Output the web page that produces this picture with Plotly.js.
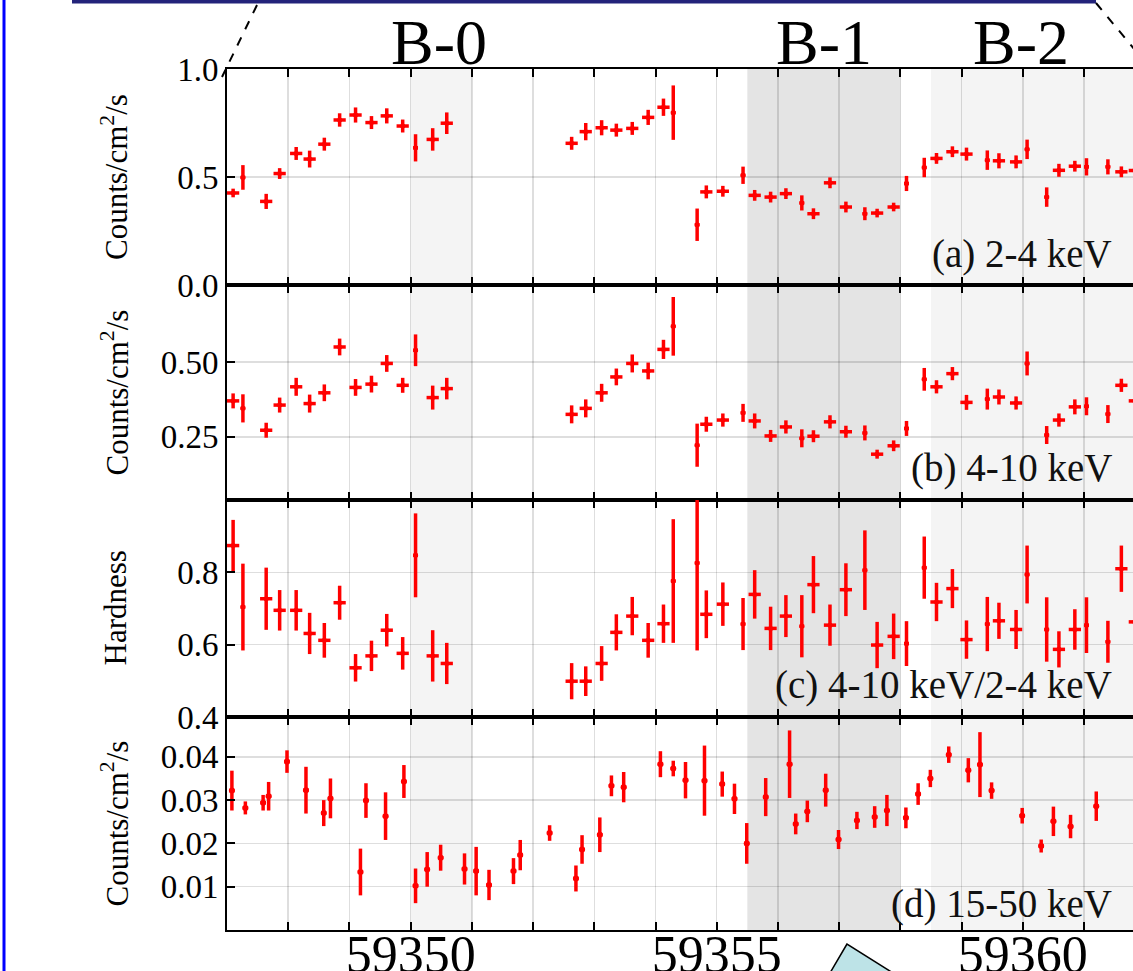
<!DOCTYPE html>
<html>
<head>
<meta charset="utf-8">
<script src="https://cdn.plot.ly/plotly-3.0.1.min.js"></script>
<style>
html,body{margin:0;padding:0;overflow:hidden;background:#fff;}
#chart{width:1133px;height:971px;}
</style>
</head>
<body>
<div id="chart"></div>
<script>
// ---------------- DATA ----------------
// MJD bin centres for panels (a)-(c)
const timesMJD = [59347.10,59347.26,59347.64,59347.86,59348.13,59348.35,59348.59,59348.84,59349.10,59349.36,
  59349.61,59349.87,59350.08,59350.36,59350.59,59352.63,59352.86,59353.12,59353.36,59353.62,
  59353.88,59354.13,59354.29,59354.68,59354.83,59355.10,59355.43,59355.62,59355.88,59356.13,
  59356.39,59356.58,59356.85,59357.11,59357.42,59357.62,59357.89,59358.10,59358.39,59358.59,
  59358.85,59359.08,59359.42,59359.61,59359.89,59360.07,59360.39,59360.59,59360.85,59361.04,
  59361.39,59361.61,59361.83];
// half width of each time bin (days)
const timeHalfWidth = [0.1,0.04,0.1,0.1,0.1,0.1,0.1,0.1,0.1,0.1,
  0.1,0.1,0.04,0.1,0.1,0.1,0.1,0.1,0.1,0.1,
  0.1,0.1,0.04,0.04,0.1,0.1,0.04,0.1,0.1,0.1,
  0.04,0.1,0.1,0.1,0.04,0.1,0.1,0.04,0.04,0.1,
  0.1,0.1,0.04,0.1,0.1,0.04,0.04,0.1,0.1,0.04,
  0.04,0.1,0.1];
// (a) 2-4 keV flux
const flux2to4 = [0.426,0.498,0.387,0.516,0.609,0.583,0.652,0.764,0.787,0.752,
  0.783,0.736,0.635,0.674,0.749,0.656,0.710,0.728,0.717,0.725,
  0.776,0.823,0.798,0.279,0.431,0.434,0.508,0.415,0.407,0.423,
  0.380,0.330,0.473,0.361,0.330,0.333,0.361,0.470,0.544,0.586,
  0.617,0.606,0.578,0.575,0.570,0.628,0.407,0.531,0.550,0.547,
  0.547,0.524,0.530];
const flux2to4Err = [0.020,0.057,0.035,0.025,0.030,0.039,0.030,0.031,0.035,0.030,
  0.035,0.030,0.063,0.052,0.050,0.030,0.040,0.035,0.030,0.030,
  0.035,0.040,0.126,0.075,0.030,0.025,0.040,0.025,0.025,0.025,
  0.035,0.025,0.025,0.025,0.030,0.020,0.020,0.035,0.045,0.025,
  0.025,0.030,0.045,0.035,0.030,0.045,0.045,0.030,0.025,0.040,
  0.035,0.025,0.030];
// (b) 4-10 keV flux
const flux4to10 = [0.370,0.345,0.272,0.356,0.417,0.361,0.397,0.550,0.415,0.426,
  0.495,0.422,0.539,0.381,0.411,0.325,0.345,0.397,0.450,0.495,
  0.470,0.542,0.619,0.222,0.292,0.306,0.330,0.303,0.253,0.283,
  0.245,0.252,0.300,0.267,0.263,0.192,0.220,0.278,0.442,0.417,
  0.461,0.365,0.376,0.383,0.363,0.495,0.256,0.306,0.350,0.352,
  0.326,0.422,0.370];
const flux4to10Err = [0.025,0.047,0.025,0.025,0.030,0.030,0.028,0.028,0.028,0.028,
  0.028,0.025,0.053,0.040,0.036,0.030,0.030,0.030,0.028,0.030,
  0.028,0.032,0.098,0.072,0.025,0.022,0.030,0.025,0.020,0.022,
  0.030,0.020,0.022,0.020,0.025,0.015,0.018,0.025,0.038,0.022,
  0.022,0.025,0.035,0.025,0.022,0.040,0.030,0.022,0.025,0.030,
  0.030,0.022,0.025];
// (c) hardness ratio 4-10 keV / 2-4 keV
const hardness = [0.874,0.704,0.727,0.695,0.695,0.631,0.612,0.716,0.536,0.569,
  0.640,0.576,0.847,0.569,0.548,0.499,0.499,0.548,0.634,0.679,
  0.612,0.658,0.776,0.826,0.684,0.712,0.657,0.739,0.645,0.679,
  0.651,0.766,0.654,0.752,0.806,0.599,0.623,0.603,0.813,0.718,
  0.755,0.614,0.657,0.666,0.642,0.794,0.642,0.587,0.642,0.654,
  0.608,0.810,0.663];
const hardnessErr = [0.071,0.120,0.086,0.056,0.056,0.057,0.048,0.047,0.038,0.042,
  0.045,0.045,0.116,0.071,0.057,0.050,0.041,0.048,0.050,0.053,
  0.048,0.053,0.171,0.242,0.066,0.060,0.072,0.067,0.060,0.058,
  0.086,0.079,0.057,0.073,0.110,0.064,0.063,0.062,0.086,0.053,
  0.054,0.053,0.075,0.050,0.054,0.080,0.089,0.050,0.056,0.077,
  0.058,0.064,0.060];
// (d) 15-50 keV flux, own time bins
const timesHard = [59347.08,59347.30,59347.59,59347.68,59347.98,59348.29,59348.58,59348.69,59349.18,59349.27,
  59349.59,59349.89,59350.08,59350.27,59350.49,59350.88,59351.07,59351.28,59351.68,59351.79,
  59352.27,59352.70,59352.80,59353.09,59353.28,59353.48,59354.08,59354.29,59354.49,59354.80,
  59355.09,59355.29,59355.49,59355.80,59356.19,59356.29,59356.48,59356.78,59356.99,59357.29,
  59357.58,59357.78,59358.09,59358.29,59358.49,59358.79,59359.11,59359.30,59359.49,59359.99,
  59360.30,59360.50,59360.78,59361.20];
const flux15to50 = [0.0322,0.0282,0.0294,0.0309,0.0389,0.0323,0.0270,0.0304,0.0134,0.0299,
  0.0263,0.0343,0.0102,0.0140,0.0167,0.0141,0.0136,0.0104,0.0136,0.0173,
  0.0224,0.0119,0.0186,0.0220,0.0333,0.0330,0.0383,0.0373,0.0346,0.0345,
  0.0337,0.0303,0.0200,0.0307,0.0383,0.0245,0.0274,0.0323,0.0209,0.0253,
  0.0261,0.0276,0.0259,0.0314,0.0350,0.0405,0.0369,0.0382,0.0322,0.0264,
  0.0194,0.0251,0.0239,0.0286];
const flux15to50Err = [0.0046,0.0015,0.0018,0.0033,0.0026,0.0054,0.0030,0.0046,0.0054,0.0040,
  0.0055,0.0038,0.0040,0.0040,0.0030,0.0036,0.0056,0.0035,0.0030,0.0035,
  0.0018,0.0030,0.0033,0.0040,0.0024,0.0035,0.0030,0.0018,0.0042,0.0081,
  0.0029,0.0035,0.0047,0.0044,0.0078,0.0024,0.0025,0.0038,0.0022,0.0020,
  0.0025,0.0036,0.0024,0.0025,0.0020,0.0019,0.0028,0.0075,0.0019,0.0018,
  0.0015,0.0034,0.0027,0.0034];
// burst intervals
const burstNames = ['B-0','B-1','B-2'];
const burstStart = [59350.0, 59355.5, 59358.5];
const burstEnd   = [59351.0, 59358.0, 59362.5];
const burstLabelDay = [59350.47, 59356.75, 59359.97];
// text
const panelLabels = ['(a) 2-4 keV','(b) 4-10 keV','(c) 4-10 keV/2-4 keV','(d) 15-50 keV'];
const yTitles = ['Counts/cm<sup>2</sup>/s','Counts/cm<sup>2</sup>/s','Hardness','Counts/cm<sup>2</sup>/s'];
const yTickVals = [[0,0.5,1.0],[0.25,0.50],[0.4,0.6,0.8],[0.01,0.02,0.03,0.04]];
const yTickText = [['0.0','0.5','1.0'],['0.25','0.50'],['0.4','0.6','0.8'],['0.01','0.02','0.03','0.04']];
const yRanges = [[0,1.0],[0.039,0.757],[0.4,1.0],[0,0.0492]];
const xRange = [59347.0, 59361.8];

// ---------------- LAYOUT HELPERS ----------------
const FONT = '"Liberation Serif","Times New Roman",Times,serif';
const W = 1133, H = 971, L = 227, T = 69, BOT = 930;
const px = p => (p - L) / (W - L);
const py = p => (BOT - p) / (BOT - T);
const panelTop = [69, 285, 500, 717];
const panelBot = [285, 500, 717, 930];
const GRID = 'rgba(0,0,0,0.13)';
const RED = '#ff0000';

const suffix = i => (i === 0 ? '' : String(i + 1));

function errTrace(x, y, ey, exArr, exConst, i, msize) {
  const ex = exArr ? {type:'data', array: exArr, visible:true, color:RED, thickness:3.5, width:0}
                   : {type:'constant', value: exConst, visible:true, color:RED, thickness:3.5, width:0};
  return {
    type:'scatter', mode:'markers', x:x, y:y,
    xaxis:'x' + suffix(i), yaxis:'y' + suffix(i),
    marker:{color:RED, size:msize},
    error_y:{type:'data', array:ey, visible:true, color:RED, thickness:3.5, width:0},
    error_x: ex,
    showlegend:false, hoverinfo:'x+y'
  };
}

const data = [
  errTrace(timesMJD, flux2to4, flux2to4Err, timeHalfWidth, null, 0, 5),
  errTrace(timesMJD, flux4to10, flux4to10Err, timeHalfWidth, null, 1, 5),
  errTrace(timesMJD, hardness, hardnessErr, timeHalfWidth, null, 2, 5),
  errTrace(timesHard, flux15to50, flux15to50Err, null, 0.045, 3, 6)
];

const layout = {
  width: W, height: H,
  margin: {l: L, r: 0, t: T, b: H - BOT, pad: 0},
  paper_bgcolor: '#ffffff',
  plot_bgcolor: 'rgba(0,0,0,0)',
  font: {family: FONT, color: '#000'},
  showlegend: false,
  shapes: [],
  annotations: []
};

for (let i = 0; i < 4; i++) {
  const s = suffix(i);
  layout['xaxis' + s] = {
    domain: [0, 1], anchor: 'y' + s, range: xRange,
    tick0: 59350, dtick: 5, tickformat: 'd',
    ticks: 'inside', ticklen: 8, tickwidth: 2, tickcolor: '#000',
    showline: true, linecolor: '#000', linewidth: 1.6, mirror: 'ticks',
    showgrid: true, gridcolor: GRID, gridwidth: 1.5, zeroline: false,
    showticklabels: i === 3, ticklabelstandoff: -22,
    tickfont: {family: FONT, size: 52, color: '#000'},
    minor: {tick0: 59347, dtick: 1, ticks: 'inside', ticklen: 8, tickwidth: 2, tickcolor: '#000',
            showgrid: true, gridcolor: GRID, gridwidth: 1.5}
  };
  if (i > 0) layout['xaxis' + s].matches = 'x';
  layout['yaxis' + s] = {
    domain: [py(panelBot[i]), py(panelTop[i])], anchor: 'x' + s,
    range: yRanges[i], tickmode: 'array', tickvals: yTickVals[i], ticktext: yTickText[i],
    ticks: 'inside', ticklen: 8, tickwidth: 2, tickcolor: '#000',
    showline: true, linecolor: '#000', linewidth: 2, mirror: false,
    showgrid: true, gridcolor: GRID, gridwidth: 1.5, zeroline: false,
    tickfont: {family: FONT, size: 33, color: '#000'}
  };
  const yc = (panelTop[i] + panelBot[i]) / 2;
  layout.annotations.push({
    xref: 'paper', yref: 'paper', x: px(115), y: py(yc), xanchor: 'center', yanchor: 'middle',
    text: yTitles[i], textangle: -90, showarrow: false,
    font: {family: FONT, size: 31, color: '#000'}
  });
}

// panel labels
const labelCentersPx = [254, 468, 685, 904];
panelLabels.forEach((t, i) => {
  layout.annotations.push({
    xref: 'paper', yref: 'paper', x: px(1114), y: py(labelCentersPx[i]),
    xanchor: 'right', yanchor: 'middle', text: t, showarrow: false,
    font: {family: FONT, size: 39, color: '#111'}
  });
});

// burst shading and names
const burstFill = ['#f4f4f4', '#e4e4e4', '#f4f4f4'];
burstNames.forEach((n, i) => {
  layout.shapes.push({
    type: 'rect', xref: 'x', yref: 'paper', x0: burstStart[i], x1: burstEnd[i], y0: 0, y1: 1,
    fillcolor: burstFill[i], line: {width: 0}, layer: 'below'
  });
  layout.annotations.push({
    xref: 'x', yref: 'paper', x: burstLabelDay[i], y: py(42), xanchor: 'center', yanchor: 'middle',
    text: n, showarrow: false, font: {family: FONT, size: 64, color: '#000'}
  });
});

// slide decorations
layout.shapes.push(
  {type: 'line', xref: 'paper', yref: 'paper', x0: px(4), x1: px(4), y0: py(-5), y1: py(980),
   line: {color: '#0000ff', width: 3}, layer: 'above'},
  {type: 'line', xref: 'paper', yref: 'paper', x0: px(72), x1: px(1096), y0: py(1.5), y1: py(1.5),
   line: {color: '#23237a', width: 4}, layer: 'above'},
  {type: 'line', xref: 'paper', yref: 'paper', x0: px(257), x1: px(222), y0: py(5), y1: py(77),
   line: {color: '#000', width: 2, dash: 'dash'}, layer: 'above'},
  {type: 'line', xref: 'paper', yref: 'paper', x0: px(1096), x1: px(1135), y0: py(3), y1: py(50),
   line: {color: '#000', width: 2, dash: 'dash'}, layer: 'above'},
  {type: 'path', xref: 'paper', yref: 'paper',
   path: 'M ' + px(847) + ',' + py(944) + ' L ' + px(820) + ',' + py(990) + ' L ' + px(920) + ',' + py(990) + ' Z',
   fillcolor: '#bde3e7', line: {color: '#000', width: 1.5}, layer: 'above'}
);

Plotly.newPlot('chart', data, layout, {displayModeBar: false, staticPlot: true});
</script>
</body>
</html>
